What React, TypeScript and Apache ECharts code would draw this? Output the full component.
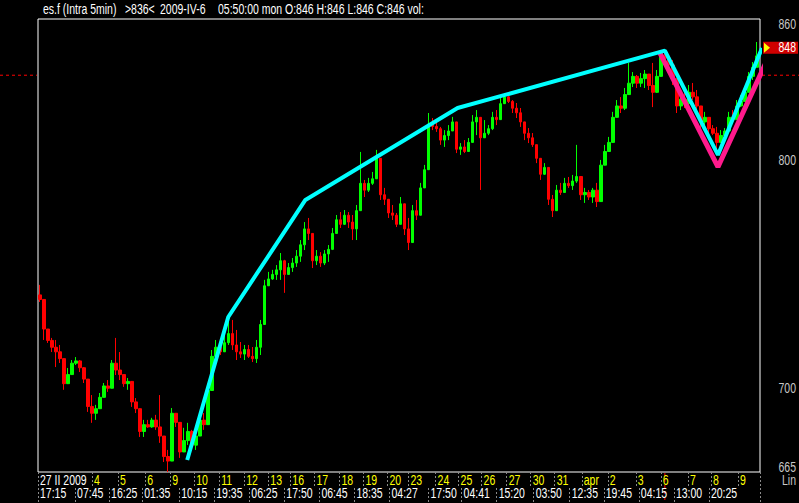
import React, { useEffect, useRef } from "react";
import * as echarts from "echarts";

// ---- data (bar index units, prices) ----
const HIGHS = [
  745.4, 732.2, 723.4, 722.1, 721.2, 719.0, 709.3, 708.9, 712.4, 713.7,
  712.4, 709.3, 703.6, 697.0, 692.7, 697.9, 702.3, 703.6, 712.4, 722.1,
  715.9, 704.9, 704.5, 702.3, 695.7, 687.4, 686.1, 686.1, 687.0, 688.3,
  697.0, 677.3, 672.9, 691.3, 689.1, 683.0, 682.6, 684.8, 681.7, 681.7,
  689.1, 689.1, 701.4, 716.8, 721.2, 721.2, 723.4, 729.1, 730.0, 725.6,
  720.3, 719.0, 719.0, 718.1, 721.2, 730.0, 747.6, 751.1, 752.0, 754.1,
  759.4, 756.4, 755.0, 757.2, 760.7, 765.1, 773.0, 774.8, 767.3, 760.7,
  759.8, 760.7, 762.9, 770.4, 776.1, 777.4, 778.3, 777.4, 776.1, 780.5,
  803.8, 791.5, 792.4, 795.0, 804.7, 791.5, 788.0, 781.4, 780.5, 777.0,
  784.0, 780.5, 774.8, 780.5, 782.7, 790.2, 798.1, 820.9, 818.7, 817.8,
  814.8, 813.4, 815.6, 819.2, 809.0, 807.7, 809.0, 809.9, 820.0, 822.2,
  813.4, 817.8, 815.6, 821.4, 822.2, 827.5, 829.7, 828.8, 826.6, 825.3,
  823.1, 816.5, 814.3, 812.1, 806.9, 798.9, 798.9, 789.3, 784.9, 789.3,
  790.2, 792.4, 792.8, 793.7, 806.9, 789.3, 788.0, 787.1, 788.0, 790.2,
  800.3, 806.9, 810.4, 821.4, 826.6, 827.9, 831.9, 842.9, 838.9, 837.6,
  838.5, 839.8, 837.6, 842.9, 839.8, 847.7, 848.6, 846.4, 844.2, 833.2,
  831.0, 830.1, 833.2, 834.1, 831.0, 822.2, 821.4, 817.8, 815.6, 814.8,
  813.4, 814.3, 821.4, 822.2, 826.6, 828.8, 831.9, 838.9, 843.3, 852.1,
];
const LOWS = [
  737.9, 721.2, 719.9, 715.9, 709.3, 711.1, 699.3, 703.6, 709.3, 710.2,
  707.1, 702.3, 689.6, 684.8, 686.1, 691.8, 697.9, 698.4, 703.6, 705.8,
  703.6, 700.6, 699.3, 691.8, 689.1, 678.6, 678.6, 682.6, 682.6, 681.7,
  676.0, 667.6, 663.2, 683.0, 683.0, 669.4, 672.9, 675.1, 672.9, 672.9,
  680.4, 681.7, 686.1, 708.0, 712.4, 714.6, 716.8, 719.0, 716.8, 712.4,
  713.3, 712.4, 713.3, 711.5, 711.1, 714.6, 731.3, 746.7, 747.6, 747.6,
  747.6, 741.9, 749.8, 751.1, 753.3, 755.5, 760.7, 765.1, 752.8, 754.1,
  753.3, 754.1, 755.5, 760.7, 768.6, 770.4, 771.7, 770.4, 765.1, 765.1,
  784.9, 784.0, 786.2, 789.3, 795.0, 782.7, 780.5, 774.8, 773.9, 770.8,
  775.2, 767.3, 760.7, 772.6, 773.9, 781.4, 791.5, 800.3, 813.4, 812.6,
  806.9, 806.0, 809.0, 813.4, 803.3, 802.5, 803.3, 804.7, 813.4, 811.2,
  787.1, 810.4, 811.2, 813.4, 815.6, 820.9, 825.3, 825.3, 820.9, 818.7,
  814.8, 809.0, 807.7, 806.0, 798.9, 791.5, 793.7, 780.5, 775.2, 784.0,
  784.9, 787.1, 788.0, 787.1, 790.2, 782.7, 781.4, 782.7, 781.4, 779.6,
  787.1, 798.1, 804.7, 813.4, 819.2, 820.9, 822.2, 831.0, 832.3, 831.9,
  832.3, 831.9, 831.0, 823.5, 829.7, 842.0, 843.3, 839.8, 833.2, 820.9,
  822.2, 823.1, 824.4, 826.6, 822.2, 814.3, 813.4, 812.1, 811.2, 803.3,
  807.7, 809.0, 814.8, 817.0, 819.2, 823.5, 826.6, 832.3, 835.4, 844.2,
];
const CLOSES = [
  739, 726, 721, 718, 716, 713, 702, 706, 711, 712,
  709, 704, 692, 689, 691, 696, 701, 700, 711, 708,
  706, 702, 703, 694, 691, 681, 684, 683, 686, 683,
  679, 670, 668, 689, 685, 672, 677, 681, 675, 679,
  686, 684, 699, 714, 718, 716, 720, 724, 719, 716,
  715, 717, 714, 713, 718, 728, 745, 748, 750, 752,
  756, 750, 753, 755, 758, 763, 770, 768, 756, 758,
  755, 759, 761, 768, 774, 772, 776, 773, 770, 778,
  790, 787, 790, 792, 801, 785, 783, 777, 776, 772,
  781, 770, 764, 778, 776, 788, 796, 816, 815, 814,
  809, 811, 813, 817, 805, 806, 804, 808, 817, 819,
  810, 812, 814, 819, 818, 825, 828, 826, 823, 821,
  817, 812, 810, 807, 801, 794, 797, 783, 778, 787,
  786, 790, 789, 791, 793, 785, 786, 784, 787, 782,
  798, 804, 808, 819, 824, 823, 829, 834, 837, 834,
  836, 838, 833, 830, 837, 846, 845, 842, 836, 824,
  827, 825, 830, 828, 824, 817, 819, 814, 812, 808,
  811, 813, 819, 818, 824, 826, 830, 837, 841, 846,
];
const FIRST_OPEN = 741;

const CYAN_X = [36.75, 47, 66.25, 104.25, 156, 169.25, 180.25];
const CYAN_Y = [668.5, 731.3, 782.7, 823.1, 848.3, 802.5, 849.5];
const PINK_X = [154.75, 169.25, 183.5];
const PINK_Y = [847.3, 797.2, 851.7];

const DATE_TICKS = [-0.5, 13, 19.5, 26.25, 32.5, 38.5, 44.75, 51, 57, 62.5, 68.5, 74.75, 80.75, 86.75, 92, 98.75, 104.5, 110.25, 116.5, 122.5, 128.5, 135.25, 141.75, 148.75, 155, 161.75, 167.5, 174.25];
const DATE_LABELS = ["27 II 2009", "4", "5", "6", "9", "10", "11", "12", "13", "16", "17", "18", "19", "20", "23", "24", "25", "26", "27", "30", "31", "apr", "2", "3", "6", "7", "8", "9"];
const TIME_TICKS = [-0.5, 8.75, 17.25, 25.5, 34.75, 43.5, 52.25, 61, 69.75, 78.5, 87.25, 97, 105.25, 114, 123.25, 132.25, 140.75, 149.5, 158.25, 167];
const TIME_LABELS = ["17:15", "07:45", "16:25", "01:35", "10:15", "19:35", "06:25", "17:50", "06:45", "18:35", "04:27", "17:50", "04:41", "15:20", "03:50", "12:35", "19:45", "04:15", "13:00", "20:25"];
const PRICE_TICKS = [665, 700, 800, 860];
const LAST_TAG = 848;
const CURSOR_PRICE = 837.5;
const CURSOR_BAR = 156;
const HEADER = ["es.f (Intra 5min)", ">836<", "2009-IV-6", "05:50:00 mon O:846 H:846 L:846 C:846 vol:"];

const X_MIN = -0.5;
const X_MAX = 179.75;
const Y_MIN = 663.2;
const Y_MAX = 862.2;
const FONT = "'Liberation Sans', Arial, sans-serif";
const FS = 14;
const SX = 0.75;

export default function App() {
  const ref = useRef<HTMLDivElement>(null);
  useEffect(() => {
    const el = ref.current!;
    const chart = echarts.init(el, null, { renderer: "svg" });
    const opens = CLOSES.map((c, i) => (i === 0 ? FIRST_OPEN : CLOSES[i - 1]));
    const bars = CLOSES.map((c, i) => [i, opens[i], c, LOWS[i], HIGHS[i]]);
    const tickStyle = { color: "#8a8a8a", type: [2, 2] as any, width: 1 };
    const baseX = {
      type: "value",
      min: X_MIN,
      max: X_MAX,
      position: "bottom",
      gridIndex: 0,
      axisLine: { show: false },
      splitLine: { show: false },
      axisLabel: { show: false },
    };
    chart.setOption({
      animation: false,
      backgroundColor: "#000",
      grid: {
        left: 38, right: 39, top: 19, bottom: 31,
        show: true, borderColor: "#ffffff", borderWidth: 1, backgroundColor: "transparent",
      },
      xAxis: [
        {
          ...baseX,
          offset: 0,
          axisTick: { show: true, customValues: [...DATE_TICKS, X_MAX], length: 15, lineStyle: tickStyle },
        },
        {
          ...baseX,
          offset: 16,
          axisTick: { show: true, customValues: [...TIME_TICKS, X_MAX], length: 15, lineStyle: tickStyle },
        },
      ],
      yAxis: {
        type: "value",
        position: "right",
        min: Y_MIN,
        max: Y_MAX,
        axisLine: { show: false },
        axisTick: { show: false },
        splitLine: { show: false },
        axisLabel: { show: false },
      },
      series: [
        {
          type: "candlestick",
          data: bars,
          encode: { x: 0, y: [1, 2, 3, 4] },
          barWidth: 3,
          itemStyle: {
            color: "#00ff00",
            color0: "#ff0000",
            borderColor: "#00ff00",
            borderColor0: "#ff0000",
            borderWidth: 1,
          },
          z: 2,
        },
        {
          type: "line",
          data: PINK_X.map((x, i) => [x, PINK_Y[i]]),
          symbol: "none",
          clip: false,
          lineStyle: { color: "#ff1a8c", width: 5 },
          z: 5,
        },
        {
          type: "line",
          data: CYAN_X.map((x, i) => [x, CYAN_Y[i]]),
          symbol: "none",
          clip: false,
          lineStyle: { color: "#00ffff", width: 4 },
          z: 6,
        },
      ],
    });

    const px = (v: number) => chart.convertToPixel({ xAxisIndex: 0 }, v) as number;
    const py = (v: number) => chart.convertToPixel({ yAxisIndex: 0 }, v) as number;
    const yCur = py(CURSOR_PRICE);
    const xCur = px(CURSOR_BAR);
    const yBot = py(Y_MIN);
    const xLeft = px(X_MIN);
    const xRight = px(X_MAX);
    const yTag = py(LAST_TAG) - 3.5;
    const W = el.clientWidth;
    const H = el.clientHeight;
    const red = { stroke: "#ff0000", lineWidth: 1, lineDash: [3, 3] };
    const hx = [43, 125, 160, 218];

    const txt = (text: string, x: number, y: number, fill: string, align = "left", z = 10) => ({
      type: "text",
      z,
      x,
      y,
      scaleX: SX,
      style: {
        text,
        x: 0,
        y: 0,
        fill,
        font: `${FS}px ${FONT}`,
        lineHeight: 11,
        textAlign: align,
        textVerticalAlign: "middle",
      },
    });

    chart.setOption({
      graphic: [
        ...HEADER.map((t, i) => txt(t, hx[i], 9, "#ffffff")),
        ...DATE_LABELS.map((t, i) => txt(t, px(DATE_TICKS[i]) + 2, yBot + 8.5, i === 0 ? "#ffffff" : "#ffff00")),
        ...TIME_LABELS.map((t, i) => txt(t, px(TIME_TICKS[i]) + 2, yBot + 21.5, "#ffffff")),
        ...PRICE_TICKS.map((v) => txt(String(v), W - 3, py(v), "#c8c8c8", "right")),
        txt("Lin", W - 3, yBot + 8.5, "#c8c8c8", "right"),
        { type: "line", z: 3, shape: { x1: 0, y1: yCur, x2: xLeft - 1, y2: yCur }, style: red },
        { type: "line", z: 3, shape: { x1: xRight + 2, y1: yCur, x2: W, y2: yCur }, style: red },
        { type: "line", z: 3, shape: { x1: xCur, y1: yBot + 1, x2: xCur, y2: H }, style: red },
        { type: "rect", z: 3, shape: { x: xRight + 3, y: yTag - 6, width: W - xRight - 4, height: 12 }, style: { fill: "#d00000" } },
        { type: "polygon", z: 4, shape: { points: [[xRight + 4, yTag - 5], [xRight + 10, yTag], [xRight + 4, yTag + 5]] }, style: { fill: "#ffff00" } },
        txt(String(LAST_TAG), W - 3, yTag, "#ffffff", "right", 4),
      ],
    });

    return () => chart.dispose();
  }, []);
  return (
    <div
      ref={ref}
      style={{ position: "fixed", left: 0, top: 0, width: 799, height: 503, background: "#000" }}
    />
  );
}
